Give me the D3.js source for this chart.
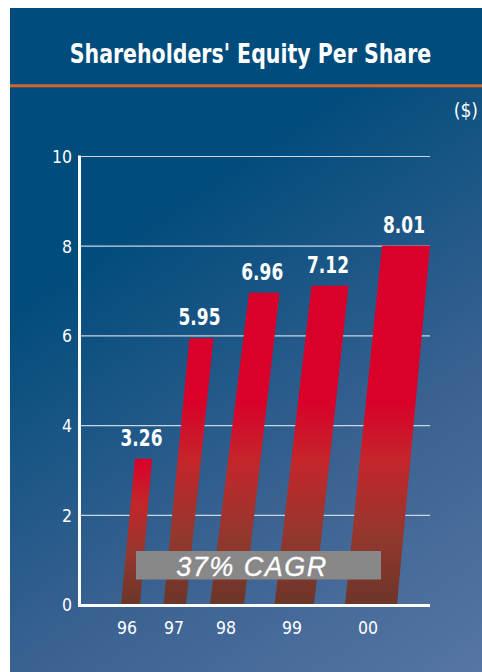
<!DOCTYPE html>
<html>
<head>
<meta charset="utf-8">
<script src="https://cdn.jsdelivr.net/npm/d3@7"></script>
<style>
  html, body { margin: 0; padding: 0; background: #ffffff; }
  svg { display: block; }
</style>
</head>
<body>
<script>
// ---- data ----
const categories = ["96", "97", "98", "99", "00"];
const values = [3.26, 5.95, 6.96, 7.12, 8.01];
const yTicks = [0, 2, 4, 6, 8, 10];
const title = "Shareholders' Equity Per Share";
const unitLabel = "($)";
const cagrLabel = "37% CAGR";

// ---- layout (style, not data) ----
const W = 482, H = 672;
const condensed = "'DejaVu Sans Condensed', 'DejaVu Sans', sans-serif";
const slotBottomX = d3.scaleOrdinal().domain(categories).range([121, 163.5, 210, 274.5, 345]);
const slotBottomW = d3.scaleOrdinal().domain(categories).range([19, 22.5, 34, 39.5, 52]);
const slotLean = d3.scaleOrdinal().domain(categories).range([14, 26, 39, 37, 37]);
const slotTopW = d3.scaleOrdinal().domain(categories).range([17, 24, 30.5, 37, 48]);
const labelX = d3.scaleOrdinal().domain(categories).range([127, 174, 226, 292, 368]);

const y = d3.scaleLinear().domain([0, 10]).range([605, 156.5]);
const xLeft = 80, xRight = 430;

const svg = d3.select("body").append("svg").attr("width", W).attr("height", H);
const defs = svg.append("defs");

const bg = defs.append("linearGradient").attr("id", "bg")
  .attr("gradientUnits", "userSpaceOnUse")
  .attr("x1", 170).attr("y1", 200).attr("x2", 482).attr("y2", 672);
bg.append("stop").attr("offset", 0).attr("stop-color", "#004c7c");
bg.append("stop").attr("offset", 0.55).attr("stop-color", "#3a6291");
bg.append("stop").attr("offset", 1).attr("stop-color", "#5675a4");

svg.append("rect").attr("x", 10).attr("y", 8).attr("width", W - 10).attr("height", H - 8)
  .attr("fill", "url(#bg)");
svg.append("rect").attr("x", 10).attr("y", 8).attr("width", W - 10).attr("height", 78)
  .attr("fill", "#004c7c");
svg.append("rect").attr("x", 10).attr("y", 84.3).attr("width", W - 10).attr("height", 3)
  .attr("fill", "#d0682c");

// title, horizontally condensed via transform
svg.append("g").attr("transform", "translate(250.5,63) scale(0.845,1)")
  .append("text").attr("x", 0).attr("y", 0).attr("text-anchor", "middle")
  .attr("font-family", condensed).attr("font-weight", "bold").attr("font-size", 27)
  .attr("fill", "#ffffff").text(title);

svg.append("text").attr("x", 478).attr("y", 117).attr("text-anchor", "end")
  .attr("font-family", condensed).attr("font-size", 19)
  .attr("fill", "#ffffff").text(unitLabel);

// gridlines
svg.append("g").selectAll("line").data(yTicks.filter(t => t > 0)).join("line")
  .attr("x1", xLeft).attr("x2", xRight)
  .attr("y1", d => y(d)).attr("y2", d => y(d))
  .attr("stroke", "#c9d5e2").attr("stroke-width", 1.2);

// y tick labels
svg.append("g").selectAll("text").data(yTicks).join("text")
  .attr("x", 72).attr("y", d => y(d)).attr("dy", "0.36em")
  .attr("text-anchor", "end").attr("font-family", condensed).attr("font-size", 17.5)
  .attr("fill", "#ffffff").text(d => d);

// bar gradients
const barData = categories.map((c, i) => ({ c, v: values[i] }));
barData.forEach((d, i) => {
  const h = y(0) - y(d.v);
  const start = Math.max(0, 1 - 205 / h);
  const g = defs.append("linearGradient").attr("id", "bar" + i)
    .attr("x1", 0).attr("y1", 0).attr("x2", 0).attr("y2", 1);
  g.append("stop").attr("offset", 0).attr("stop-color", "#d9002a");
  g.append("stop").attr("offset", start).attr("stop-color", "#d9002a");
  g.append("stop").attr("offset", start + (1 - start) * 0.3).attr("stop-color", "#c4262a");
  g.append("stop").attr("offset", start + (1 - start) * 0.65).attr("stop-color", "#95372e");
  g.append("stop").attr("offset", 1).attr("stop-color", "#6b3628");
});

// bars (slanted parallelograms)
svg.append("g").selectAll("path").data(barData).join("path")
  .attr("d", d => {
    const x0 = slotBottomX(d.c), w0 = slotBottomW(d.c);
    const xt = x0 + slotLean(d.c), wt = slotTopW(d.c);
    const yb = y(0), yt = y(d.v);
    return `M${x0},${yb}L${x0 + w0},${yb}L${xt + wt},${yt}L${xt},${yt}Z`;
  })
  .attr("fill", (d, i) => `url(#bar${i})`);

// value labels, horizontally condensed via transform
svg.append("g").selectAll("g").data(barData).join("g")
  .attr("transform", d => {
    const cx = slotBottomX(d.c) + slotLean(d.c) + slotTopW(d.c) / 2 - 2;
    return `translate(${cx},${y(d.v) - 13}) scale(0.84,1)`;
  })
  .append("text").attr("text-anchor", "middle").attr("font-family", condensed)
  .attr("font-weight", "bold").attr("font-size", 22.5).attr("fill", "#ffffff")
  .text(d => d.v.toFixed(2));

// axes lines
svg.append("line").attr("x1", 79.5).attr("x2", 79.5).attr("y1", 155.5).attr("y2", 607)
  .attr("stroke", "#ffffff").attr("stroke-width", 3);
svg.append("line").attr("x1", 78).attr("x2", 430).attr("y1", 605.5).attr("y2", 605.5)
  .attr("stroke", "#ffffff").attr("stroke-width", 3.2);

// x labels
svg.append("g").selectAll("text").data(categories).join("text")
  .attr("x", d => labelX(d)).attr("y", 634)
  .attr("text-anchor", "middle").attr("font-family", condensed).attr("font-size", 17.5)
  .attr("fill", "#ffffff").text(d => d);

// CAGR box
svg.append("rect").attr("x", 136).attr("y", 551).attr("width", 245).attr("height", 28.5)
  .attr("fill", "#888888");
svg.append("text").attr("x", 252).attr("y", 576).attr("text-anchor", "middle")
  .attr("font-family", "'Liberation Sans', Arial, sans-serif").attr("font-style", "italic")
  .attr("font-size", 27).attr("letter-spacing", 1.5).attr("fill", "#ffffff")
  .attr("stroke", "#ffffff").attr("stroke-width", 0.3)
  .text(cagrLabel);
</script>
</body>
</html>
